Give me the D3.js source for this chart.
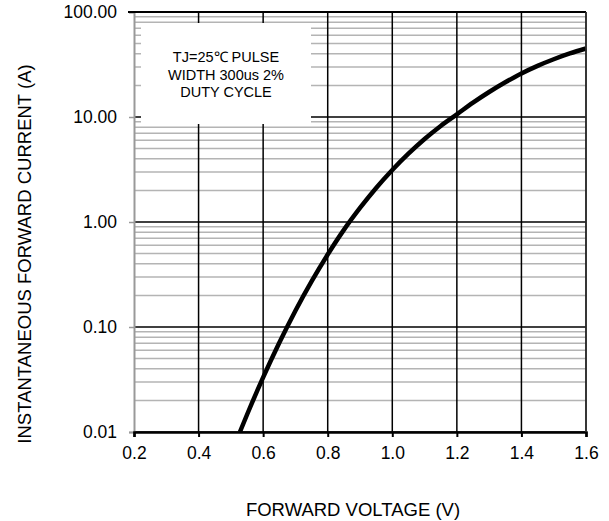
<!DOCTYPE html>
<html>
<head>
<meta charset="utf-8">
<script src="https://cdn.jsdelivr.net/npm/d3@7"></script>
<style>
    body { margin: 0; background: #fff; }
    text { font-family: "Liberation Sans", Arial, sans-serif; fill: #000; }
</style>
</head>
<body>
<div id="chart"></div>
<script>
// Forward voltage vs instantaneous forward current (log scale)

// Curve data
const voltage = [0.528, 0.55, 0.6, 0.65, 0.7, 0.75, 0.8, 0.85, 0.9, 0.95, 1.0, 1.05, 1.1, 1.15, 1.2, 1.25, 1.3, 1.35, 1.4, 1.45, 1.5, 1.55, 1.6];
const current = [0.01, 0.0146, 0.0331, 0.0708, 0.143, 0.272, 0.49, 0.841, 1.36, 2.11, 3.13, 4.47, 6.17, 8.22, 10.6, 13.7, 17.3, 21.4, 26.0, 30.7, 35.5, 40.3, 44.9];

// Tick values
const xTicks = [0.2, 0.4, 0.6, 0.8, 1.0, 1.2, 1.4, 1.6];
const yTicks = [0.01, 0.1, 1, 10, 100];

// Note text
const noteLines = ["TJ=25\u2103 PULSE", "WIDTH 300us 2%", "DUTY CYCLE"];

const svgWidth = 609;
const svgHeight = 521;

const margin = {
    top: 12,
    right: 23,
    bottom: 89,
    left: 134
};

const width = svgWidth - margin.left - margin.right;
const height = svgHeight - margin.top - margin.bottom;

const svg = d3.select("#chart")
    .append("svg")
    .attr("width", svgWidth)
    .attr("height", svgHeight);

const chartGroup = svg.append("g")
    .attr("transform", `translate(${margin.left}, ${margin.top})`);

// Scales
const xScale = d3.scaleLinear().domain([0.2, 1.6]).range([0, width]);
const yScale = d3.scaleLog().domain([0.01, 100]).range([height, 0]);

// Minor horizontal grid (2..9 in each decade)
const minorY = [];
yTicks.slice(0, -1).forEach(d => {
    for (let k = 2; k <= 9; k++) minorY.push(d * k);
});

chartGroup.append("g")
    .selectAll("line")
    .data(minorY)
    .enter()
    .append("line")
    .attr("x1", 0)
    .attr("x2", width)
    .attr("y1", d => yScale(d))
    .attr("y2", d => yScale(d))
    .attr("stroke", "#b4b4b4")
    .attr("stroke-width", 1.5);

// Major horizontal grid
chartGroup.append("g")
    .selectAll("line")
    .data(yTicks)
    .enter()
    .append("line")
    .attr("x1", 0)
    .attr("x2", width)
    .attr("y1", d => yScale(d))
    .attr("y2", d => yScale(d))
    .attr("stroke", "#000")
    .attr("stroke-width", 1.5);

// Major vertical grid
chartGroup.append("g")
    .selectAll("line")
    .data(xTicks.slice(1))
    .enter()
    .append("line")
    .attr("x1", d => xScale(d))
    .attr("x2", d => xScale(d))
    .attr("y1", 0)
    .attr("y2", height)
    .attr("stroke", "#000")
    .attr("stroke-width", 1.5);

// Note box covering the grid
const noteX = 7, noteY = 11, noteW = 170, noteH = 101;
chartGroup.append("rect")
    .attr("x", noteX)
    .attr("y", noteY)
    .attr("width", noteW)
    .attr("height", noteH)
    .attr("fill", "#fff");

chartGroup.append("g")
    .selectAll("text")
    .data(noteLines)
    .enter()
    .append("text")
    .attr("x", noteX + noteW / 2)
    .attr("y", (d, i) => 50 + i * 17.5)
    .attr("text-anchor", "middle")
    .style("font-size", "14.5px")
    .text(d => d);

// Curve
const points = voltage.map((v, i) => [v, current[i]]);
const line = d3.line()
    .x(d => xScale(d[0]))
    .y(d => yScale(d[1]))
    .curve(d3.curveMonotoneX);

chartGroup.append("path")
    .datum(points)
    .attr("d", line)
    .attr("fill", "none")
    .attr("stroke", "#000")
    .attr("stroke-width", 4.5);

// Left axis (grey)
const leftAxis = d3.axisLeft(yScale)
    .tickValues(yTicks)
    .tickFormat(d3.format(".2f"))
    .tickSize(5)
    .tickPadding(12);

const yAxis = chartGroup.append("g").call(leftAxis);
yAxis.select(".domain").attr("stroke", "#999").attr("stroke-width", 2);
yAxis.selectAll(".tick line").attr("stroke", "#999").attr("stroke-width", 1.5);
yAxis.selectAll("text")
    .style("font-size", "17.5px")
    .style("font-family", "Liberation Sans, Arial, sans-serif");

// Bottom axis (black)
const bottomAxis = d3.axisBottom(xScale)
    .tickValues(xTicks)
    .tickFormat(d3.format(".1f"))
    .tickSize(5)
    .tickPadding(10);

const xAxis = chartGroup.append("g")
    .attr("transform", `translate(0, ${height})`)
    .call(bottomAxis);
xAxis.select(".domain").attr("stroke", "#000").attr("stroke-width", 2.5);
xAxis.selectAll(".tick line").attr("stroke", "#000").attr("stroke-width", 2);
xAxis.selectAll("text")
    .style("font-size", "17.5px")
    .style("font-family", "Liberation Sans, Arial, sans-serif");

// Top and right border
chartGroup.append("line")
    .attr("x1", -6).attr("x2", width)
    .attr("y1", 0).attr("y2", 0)
    .attr("stroke", "#000")
    .attr("stroke-width", 2);

chartGroup.append("line")
    .attr("x1", width).attr("x2", width)
    .attr("y1", 0).attr("y2", height)
    .attr("stroke", "#333")
    .attr("stroke-width", 1.5);

// Axis titles
svg.append("text")
    .attr("x", 353)
    .attr("y", 516)
    .attr("text-anchor", "middle")
    .style("font-size", "18.5px")
    .text("FORWARD VOLTAGE (V)");

svg.append("text")
    .attr("transform", "translate(31, 254) rotate(-90)")
    .attr("text-anchor", "middle")
    .style("font-size", "18.5px")
    .text("INSTANTANEOUS FORWARD CURRENT (A)");
</script>
</body>
</html>
